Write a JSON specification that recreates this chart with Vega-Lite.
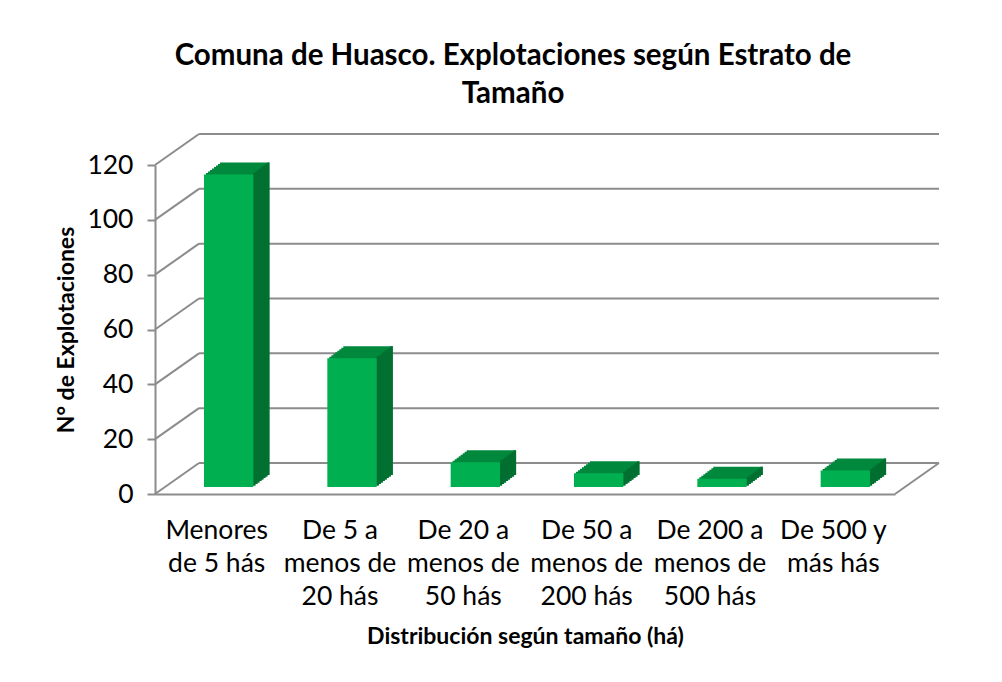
{
  "$schema": "https://vega.github.io/schema/vega-lite/v6.json",
  "width": 740,
  "height": 329,
  "autosize": "none",
  "padding": {"left": 155, "top": 165, "right": 107, "bottom": 188},
  "background": "white",
  "title": {
    "text": ["Comuna de Huasco. Explotaciones según Estrato de", "Tamaño"],
    "font": "Lato",
    "fontSize": 29.5,
    "fontWeight": "bold",
    "lineHeight": 38,
    "color": "#000000",
    "anchor": "middle",
    "offset": 24,
    "dx": -12
  },
  "datasets": {
    "bars": [
      {"cat": "Menores de 5 hás", "n": 114},
      {"cat": "De 5 a menos de 20 hás", "n": 47},
      {"cat": "De 20 a menos de 50 hás", "n": 9},
      {"cat": "De 50 a menos de 200 hás", "n": 5},
      {"cat": "De 200 a menos de 500 hás", "n": 3},
      {"cat": "De 500 y más hás", "n": 6}
    ],
    "ticks": [
      {"n": 0}, {"n": 20}, {"n": 40}, {"n": 60}, {"n": 80}, {"n": 100}, {"n": 120}
    ]
  },
  "layer": [
    {
      "data": {"name": "ticks"},
      "layer": [
        {
          "mark": {"type": "rule", "color": "#8C8C8C", "strokeWidth": 2, "xOffset": 44, "x2Offset": 44, "yOffset": -31, "y2Offset": -31},
          "encoding": {
            "x": {"datum": 0, "type": "quantitative", "scale": {"domain": [0, 1], "nice": false, "zero": false}, "axis": null},
            "x2": {"datum": 1},
            "y": {"field": "n", "type": "quantitative"},
            "y2": {"field": "n"}
          }
        },
        {
          "mark": {"type": "rule", "color": "#8C8C8C", "strokeWidth": 2, "x2Offset": 44, "y2Offset": -31},
          "encoding": {
            "x": {"datum": 0, "type": "quantitative", "scale": {"domain": [0, 1], "nice": false, "zero": false}, "axis": null},
            "x2": {"datum": 0},
            "y": {"field": "n", "type": "quantitative"},
            "y2": {"field": "n"}
          }
        },
        {
          "transform": [{"filter": "datum.n == 0"}],
          "mark": {"type": "rule", "color": "#8C8C8C", "strokeWidth": 2, "x2Offset": 44, "y2Offset": -31},
          "encoding": {
            "x": {"datum": 1, "type": "quantitative", "scale": {"domain": [0, 1], "nice": false, "zero": false}, "axis": null},
            "x2": {"datum": 1},
            "y": {"field": "n", "type": "quantitative"},
            "y2": {"field": "n"}
          }
        }
      ]
    },
    {
      "data": {"name": "bars"},
      "encoding": {
        "x": {
          "field": "cat",
          "type": "nominal",
          "sort": null,
          "scale": {"paddingInner": 0.6, "paddingOuter": 0.3},
          "title": "Distribución según tamaño (há)",
          "axis": {
            "labelAngle": 0,
            "ticks": false,
            "labelPadding": 23,
            "labelLineHeight": 33,
            "titlePadding": 16,
            "labelExpr": "datum.value == 'Menores de 5 hás' ? ['Menores', 'de 5 hás'] : datum.value == 'De 5 a menos de 20 hás' ? ['De 5 a', 'menos de', '20 hás'] : datum.value == 'De 20 a menos de 50 hás' ? ['De 20 a', 'menos de', '50 hás'] : datum.value == 'De 50 a menos de 200 hás' ? ['De 50 a', 'menos de', '200 hás'] : datum.value == 'De 200 a menos de 500 hás' ? ['De 200 a', 'menos de', '500 hás'] : ['De 500 y', 'más hás']"
          }
        },
        "y": {
          "field": "n",
          "type": "quantitative",
          "scale": {"domain": [0, 120], "nice": false},
          "title": "N° de Explotaciones",
          "axis": {"values": [0, 20, 40, 60, 80, 100, 120]}
        }
      },
      "layer": [
        {"mark": {"type": "bar", "color": "#00893D", "xOffset": 28, "x2Offset": 28, "yOffset": -19, "y2Offset": -19}},
        {"mark": {"type": "bar", "color": "#00893D", "xOffset": 26, "x2Offset": 26, "yOffset": -17.5, "y2Offset": -17.5}},
        {"mark": {"type": "bar", "color": "#00893D", "xOffset": 24, "x2Offset": 24, "yOffset": -16, "y2Offset": -16}},
        {"mark": {"type": "bar", "color": "#00893D", "xOffset": 22, "x2Offset": 22, "yOffset": -14.5, "y2Offset": -14.5}},
        {"mark": {"type": "bar", "color": "#00893D", "xOffset": 20, "x2Offset": 20, "yOffset": -13, "y2Offset": -13}},
        {"mark": {"type": "bar", "color": "#00893D", "xOffset": 18, "x2Offset": 18, "yOffset": -11.5, "y2Offset": -11.5}},
        {"mark": {"type": "bar", "color": "#00893D", "xOffset": 16, "x2Offset": 16, "yOffset": -10, "y2Offset": -10}},
        {"mark": {"type": "bar", "color": "#00893D", "xOffset": 14, "x2Offset": 14, "yOffset": -8.5, "y2Offset": -8.5}},
        {"mark": {"type": "rule", "color": "#006F30", "strokeWidth": 2.3, "xOffset": 37.67, "yOffset": -8.5, "y2Offset": -8.5}, "encoding": {"y2": {"datum": 0}}},
        {"mark": {"type": "rule", "color": "#006F30", "strokeWidth": 2.3, "xOffset": 39.67, "yOffset": -10, "y2Offset": -10}, "encoding": {"y2": {"datum": 0}}},
        {"mark": {"type": "rule", "color": "#006F30", "strokeWidth": 2.3, "xOffset": 41.67, "yOffset": -11.5, "y2Offset": -11.5}, "encoding": {"y2": {"datum": 0}}},
        {"mark": {"type": "rule", "color": "#006F30", "strokeWidth": 2.3, "xOffset": 43.67, "yOffset": -13, "y2Offset": -13}, "encoding": {"y2": {"datum": 0}}},
        {"mark": {"type": "rule", "color": "#006F30", "strokeWidth": 2.3, "xOffset": 45.67, "yOffset": -14.5, "y2Offset": -14.5}, "encoding": {"y2": {"datum": 0}}},
        {"mark": {"type": "rule", "color": "#006F30", "strokeWidth": 2.3, "xOffset": 47.67, "yOffset": -16, "y2Offset": -16}, "encoding": {"y2": {"datum": 0}}},
        {"mark": {"type": "rule", "color": "#006F30", "strokeWidth": 2.3, "xOffset": 49.67, "yOffset": -17.5, "y2Offset": -17.5}, "encoding": {"y2": {"datum": 0}}},
        {"mark": {"type": "rule", "color": "#006F30", "strokeWidth": 2.3, "xOffset": 51.67, "yOffset": -19, "y2Offset": -19}, "encoding": {"y2": {"datum": 0}}},
        {"mark": {"type": "bar", "color": "#00B050", "xOffset": 12, "x2Offset": 12, "yOffset": -7, "y2Offset": -7}}
      ]
    }
  ],
  "resolve": {"scale": {"x": "independent"}},
  "config": {
    "view": {"stroke": null},
    "axis": {
      "grid": false,
      "domainColor": "#8C8C8C",
      "domainWidth": 2,
      "tickColor": "#8C8C8C",
      "tickWidth": 2,
      "labelFont": "Lato",
      "labelFontSize": 26.5,
      "labelColor": "#000000",
      "titleFont": "Lato",
      "titleFontSize": 23,
      "titleFontWeight": "bold",
      "titleColor": "#000000"
    },
    "axisY": {
      "tickSize": 8,
      "labelPadding": 14,
      "titlePadding": 8
    }
  }
}
